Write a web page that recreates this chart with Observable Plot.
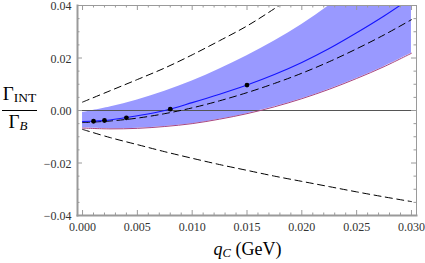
<!DOCTYPE html>
<html>
<head>
<meta charset="utf-8">
<script src="https://cdn.jsdelivr.net/npm/d3@7"></script>
<script src="https://cdn.jsdelivr.net/npm/@observablehq/plot@0.6"></script>
<style>
  html, body { margin: 0; padding: 0; background: white; }
</style>
</head>
<body>
<div id="chart"></div>
<script>
// q_C grid (GeV)
const qGrid = [0, 0.0025, 0.005, 0.0075, 0.010, 0.0125, 0.015, 0.0175, 0.020, 0.0225, 0.025, 0.0275, 0.030];
// shaded band edges
const bandHi = [-0.0008, 0.0013, 0.0040, 0.0073, 0.0112, 0.0158, 0.0209, 0.0265, 0.0328, 0.0400, 0.0480, 0.0560, 0.0650];
const bandLo = [-0.0067, -0.0070, -0.0068, -0.0061, -0.0050, -0.0033, -0.0012, 0.0014, 0.0045, 0.0081, 0.0122, 0.0167, 0.0218];
// central blue curve
const central = [-0.0042, -0.0036, -0.0020, 0.0000, 0.0030, 0.0062, 0.0097, 0.0137, 0.0183, 0.0236, 0.0296, 0.0360, 0.0430];
// dashed curves
const dashUpper = [0.0032, 0.0075, 0.0118, 0.0162, 0.0212, 0.0266, 0.0322, 0.0388, 0.0460];
const dashMid = [-0.0046, -0.0040, -0.0029, -0.0012, 0.0010, 0.0037, 0.0068, 0.0103, 0.0142, 0.0186, 0.0235, 0.0288, 0.0346];
const dashLower = [-0.0072, -0.0103, -0.0130, -0.0157, -0.0182, -0.0206, -0.0228, -0.0250, -0.0270, -0.0290, -0.0310, -0.0329, -0.0347];
// data points
const dotQ = [0.001, 0.002, 0.004, 0.008, 0.015];
const dotV = [-0.0041, -0.0038, -0.0028, 0.0005, 0.0097];
// ticks
const majorX = [0, 0.005, 0.010, 0.015, 0.020, 0.025, 0.030];
const minorX = d3.range(0, 31).map(i => i / 1000).filter(v => Math.round(v * 1000) % 5 !== 0);
const majorY = [-0.04, -0.02, 0, 0.02, 0.04];
const minorY = [-0.035, -0.03, -0.025, -0.015, -0.01, -0.005, 0.005, 0.01, 0.015, 0.025, 0.03, 0.035];

const band = qGrid.map((q, i) => ({q, lo: bandLo[i], hi: bandHi[i]}));
const cen = qGrid.map((q, i) => ({q, v: central[i]}));
const dU = dashUpper.map((v, i) => ({q: qGrid[i], v}));
const dM = qGrid.map((q, i) => ({q, v: dashMid[i]}));
const dL = qGrid.map((q, i) => ({q, v: dashLower[i]}));
const dots = dotQ.map((q, i) => ({q, v: dotV[i]}));

const W = 425, H = 263, mL = 77, mR = 9, mT = 5, mB = 48;
const pw = W - mL - mR, ph = H - mT - mB;
const frameCol = "#9a9a9a";
const curve = "catmull-rom";
const dash = "7,4.5";

const svg = Plot.plot({
  width: W, height: H,
  marginLeft: mL, marginRight: mR, marginTop: mT, marginBottom: mB,
  x: {domain: [-0.00046, 0.03046]},
  y: {domain: [-0.04, 0.04]},
  style: {fontFamily: "'Liberation Serif', serif", fontSize: "12px", background: "white", color: "#333"},
  marks: [
    Plot.areaY(band, {x: "q", y1: "lo", y2: "hi", fill: "#9999ff", curve, clip: true}),
    Plot.ruleY([0], {stroke: "#555", strokeWidth: 1}),
    Plot.line(band, {x: "q", y: "lo", stroke: "#a8457f", strokeWidth: 1, curve, clip: true}),
    Plot.line(dU, {x: "q", y: "v", stroke: "black", strokeWidth: 1, strokeDasharray: dash, curve, clip: true}),
    Plot.line(dM, {x: "q", y: "v", stroke: "black", strokeWidth: 1, strokeDasharray: dash, curve, clip: true}),
    Plot.line(dL, {x: "q", y: "v", stroke: "black", strokeWidth: 1, strokeDasharray: dash, curve, clip: true}),
    Plot.line(cen, {x: "q", y: "v", stroke: "#1414ff", strokeWidth: 1.1, curve, clip: true}),
    Plot.dot(dots, {x: "q", y: "v", r: 2.4, fill: "black", stroke: null}),
    // frame
    Plot.frame({stroke: frameCol, strokeWidth: 1}),
    Plot.frame({anchor: "left", stroke: frameCol, strokeWidth: 2}),
    Plot.frame({anchor: "bottom", stroke: frameCol, strokeWidth: 2}),
    // inward ticks: bottom / top
    Plot.tickX(majorX, {x: d => d, stroke: frameCol, insetTop: ph - 5}),
    Plot.tickX(minorX, {x: d => d, stroke: frameCol, insetTop: ph - 2.5}),
    Plot.tickX(majorX, {x: d => d, stroke: frameCol, insetBottom: ph - 5}),
    Plot.tickX(minorX, {x: d => d, stroke: frameCol, insetBottom: ph - 2.5}),
    // inward ticks: left / right
    Plot.tickY(majorY, {y: d => d, stroke: frameCol, insetRight: pw - 5}),
    Plot.tickY(minorY, {y: d => d, stroke: frameCol, insetRight: pw - 2.5}),
    Plot.tickY(majorY, {y: d => d, stroke: frameCol, insetLeft: pw - 5}),
    Plot.tickY(minorY, {y: d => d, stroke: frameCol, insetLeft: pw - 2.5}),
    // tick labels
    Plot.axisX(majorX, {tickSize: 0, tickPadding: 7, tickFormat: d3.format(".3f"), label: null, fill: "#333"}),
    Plot.axisY(majorY, {tickSize: 0, tickPadding: 6, tickFormat: d3.format(".2f"), label: null, fill: "#333", dy: 1})
  ]
});

const s = d3.select(svg);
const serif = "'Liberation Serif', serif";
// y-axis label: Γ_INT / Γ_B
const num = s.append("text").attr("x", 19.5).attr("y", 100).attr("text-anchor", "middle")
  .attr("font-family", serif).attr("fill", "black");
num.append("tspan").attr("font-size", 19).text("Γ");
num.append("tspan").attr("font-size", 13.5).attr("dy", 2).text("INT");
s.append("line").attr("x1", 2).attr("x2", 37).attr("y1", 110.5).attr("y2", 110.5).attr("stroke", "black").attr("stroke-width", 1);
const den = s.append("text").attr("x", 18).attr("y", 128).attr("text-anchor", "middle")
  .attr("font-family", serif).attr("fill", "black");
den.append("tspan").attr("font-size", 19).text("Γ");
den.append("tspan").attr("font-size", 13).attr("font-style", "italic").attr("dy", 2).text("B");
// x-axis label: q_C (GeV)
const xl = s.append("text").attr("x", 247.5).attr("y", 255).attr("text-anchor", "middle")
  .attr("font-family", serif).attr("fill", "black");
xl.append("tspan").attr("font-size", 18).attr("font-style", "italic").text("q");
xl.append("tspan").attr("font-size", 12.5).attr("font-style", "italic").attr("dy", 2).text("C");
xl.append("tspan").attr("font-size", 18).attr("dy", -2).text(" (GeV)");

document.getElementById("chart").appendChild(svg);
</script>
</body>
</html>
